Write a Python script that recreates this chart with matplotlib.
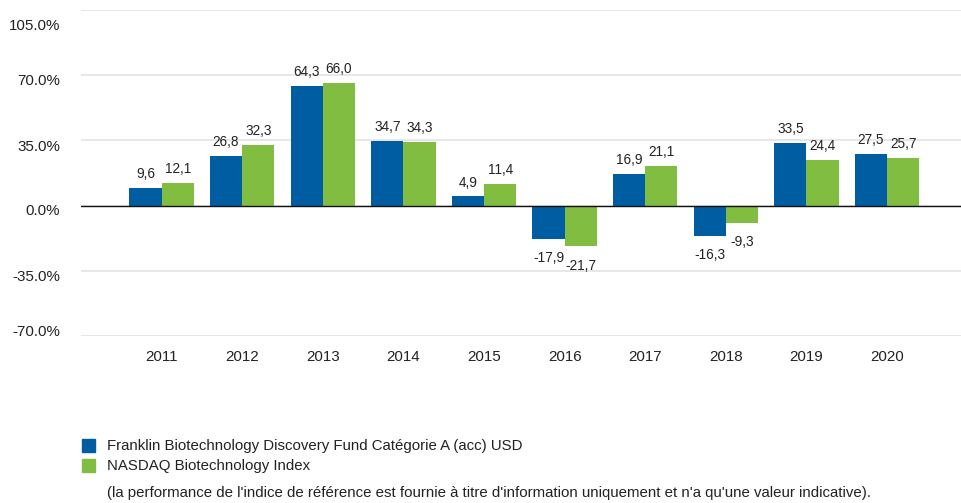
import matplotlib
matplotlib.use("Agg")
import matplotlib.pyplot as plt
from matplotlib.transforms import ScaledTranslation
import numpy as np

years = ["2011", "2012", "2013", "2014", "2015", "2016", "2017", "2018", "2019", "2020"]
fund = [9.6, 26.8, 64.3, 34.7, 4.9, -17.9, 16.9, -16.3, 33.5, 27.5]
index = [12.1, 32.3, 66.0, 34.3, 11.4, -21.7, 21.1, -9.3, 24.4, 25.7]
yticks = [-70, -35, 0, 35, 70, 105]
fund_name = "Franklin Biotechnology Discovery Fund Catégorie A (acc) USD"
index_name = "NASDAQ Biotechnology Index"
note = "(la performance de l'indice de référence est fournie à titre d'information uniquement et n'a qu'une valeur indicative)."

blue = "#005DA2"
green = "#80BD41"

plt.rcParams['font.family'] = ['Liberation Sans', 'DejaVu Sans']

fig = plt.figure(figsize=(9.62, 5.03), dpi=100)
ax = fig.add_axes([81/962, 1-336/503, 1-81/962, (336-10)/503])

x = np.arange(len(years))
w = 0.4
b1 = ax.bar(x - w/2, fund, w, color=blue, zorder=3)
b2 = ax.bar(x + w/2, index, w, color=green, zorder=3)

def fmt(v):
    return f"{v:.1f}".replace(".", ",")

for bars, vals in ((b1, fund), (b2, index)):
    for r, v in zip(bars, vals):
        cx = r.get_x() + r.get_width()/2
        if v >= 0:
            ax.annotate(fmt(v), (cx, v), xytext=(0, 5), textcoords="offset points",
                        ha="center", va="bottom", fontsize=9.8, color="#222222")
        else:
            ax.annotate(fmt(v), (cx, v), xytext=(0, -9), textcoords="offset points",
                        ha="center", va="top", fontsize=9.8, color="#222222")

ax.set_ylim(-70, 105)
ax.set_xlim(-1, 9.93)
ax.set_yticks(yticks)
ax.set_yticklabels([f"{t:.1f}%" for t in yticks])
ax.set_xticks(x)
ax.set_xticklabels(years)
ax.tick_params(axis="both", length=0, labelsize=10.9, colors="#222222")
ax.tick_params(axis="y", pad=15)
ax.tick_params(axis="x", pad=10)
ax.grid(axis="y", color="#e3e3e3", linewidth=1.2, zorder=0)
ax.axhline(0, color="#111111", linewidth=1, zorder=4)
for s in ax.spines.values():
    s.set_visible(False)

# the original draws its y labels slightly off the grid lines (pixels, downward)
label_shift = [-5, 5, 4, 5, 4, 14]
for lab, dy in zip(ax.get_yticklabels(), label_shift):
    lab.set_transform(lab.get_transform() + ScaledTranslation(0, -dy/100, fig.dpi_scale_trans))

# legend
H = 503
fig.patches.append(plt.Rectangle((82/962, 1-452/H), 13/962, 13/H, transform=fig.transFigure, color=blue))
fig.patches.append(plt.Rectangle((82/962, 1-472/H), 13/962, 13/H, transform=fig.transFigure, color=green))
fig.text(107/962, 1-446/H, fund_name, fontsize=10.8, va="center", ha="left", color="#222222")
fig.text(107/962, 1-466/H, index_name, fontsize=10.8, va="center", ha="left", color="#222222")
fig.text(107/962, 1-493/H, note, fontsize=10.8, va="center", ha="left", color="#222222")

fig.savefig("out.png", dpi=100)
